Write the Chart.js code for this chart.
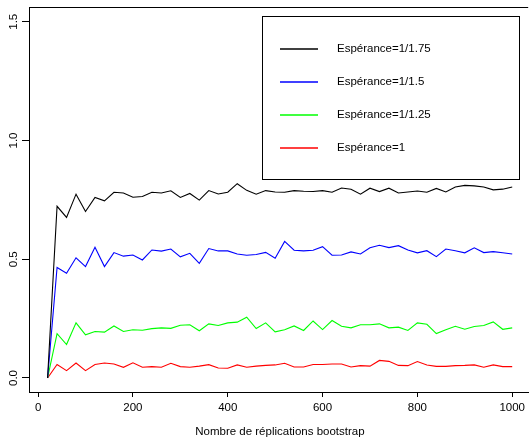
<!DOCTYPE html>
<html>
<head>
<meta charset="utf-8">
<script src="https://cdn.jsdelivr.net/npm/chart.js@4.4.1/dist/chart.umd.min.js"></script>
<style>
  html, body { margin: 0; padding: 0; background: #fff; }
  #wrap { width: 529px; height: 439px; }
</style>
</head>
<body>
<div id="wrap"><canvas id="c" width="529" height="439"></canvas></div>
<script>
var replications = [20, 40, 60, 80, 100, 120, 140, 160, 180, 200,
  220, 240, 260, 280, 300, 320, 340, 360, 380, 400,
  420, 440, 460, 480, 500, 520, 540, 560, 580, 600,
  620, 640, 660, 680, 700, 720, 740, 760, 780, 800,
  820, 840, 860, 880, 900, 920, 940, 960, 980, 1000];

var esp175 = [0, 0.723, 0.676, 0.774, 0.701, 0.760, 0.746, 0.782, 0.779, 0.761,
  0.764, 0.782, 0.779, 0.788, 0.760, 0.777, 0.749, 0.789, 0.775, 0.782,
  0.818, 0.790, 0.774, 0.789, 0.783, 0.782, 0.789, 0.786, 0.785, 0.789,
  0.782, 0.800, 0.795, 0.774, 0.799, 0.785, 0.799, 0.779, 0.783, 0.787,
  0.782, 0.798, 0.783, 0.804, 0.811, 0.809, 0.804, 0.792, 0.795, 0.804];

var esp15 = [0, 0.465, 0.441, 0.506, 0.469, 0.550, 0.469, 0.528, 0.513, 0.518,
  0.497, 0.539, 0.534, 0.543, 0.510, 0.525, 0.483, 0.545, 0.535, 0.535,
  0.522, 0.517, 0.520, 0.529, 0.504, 0.575, 0.538, 0.535, 0.538, 0.553,
  0.517, 0.518, 0.531, 0.522, 0.548, 0.559, 0.549, 0.557, 0.539, 0.527,
  0.536, 0.511, 0.543, 0.536, 0.527, 0.548, 0.528, 0.532, 0.527, 0.522];

var esp125 = [0, 0.187, 0.141, 0.232, 0.182, 0.196, 0.193, 0.219, 0.196, 0.203,
  0.201, 0.208, 0.211, 0.209, 0.222, 0.224, 0.199, 0.228, 0.221, 0.232,
  0.235, 0.256, 0.208, 0.232, 0.194, 0.203, 0.219, 0.200, 0.240, 0.204,
  0.242, 0.218, 0.211, 0.224, 0.224, 0.228, 0.211, 0.214, 0.200, 0.232,
  0.226, 0.187, 0.203, 0.218, 0.205, 0.217, 0.221, 0.236, 0.205, 0.211];

var esp1 = [0, 0.057, 0.031, 0.063, 0.031, 0.057, 0.063, 0.059, 0.045, 0.064,
  0.045, 0.048, 0.045, 0.062, 0.048, 0.045, 0.050, 0.056, 0.042, 0.041,
  0.055, 0.045, 0.050, 0.053, 0.055, 0.062, 0.046, 0.046, 0.057, 0.057,
  0.059, 0.059, 0.046, 0.052, 0.050, 0.074, 0.070, 0.053, 0.052, 0.069,
  0.055, 0.049, 0.049, 0.052, 0.053, 0.055, 0.045, 0.055, 0.048, 0.048];

var seriesLabels = ['Espérance=1/1.75', 'Espérance=1/1.5', 'Espérance=1/1.25', 'Espérance=1'];
var seriesColors = ['#000000', '#0000ff', '#00ff00', '#ff0000'];
var xTicks = [0, 200, 400, 600, 800, 1000];
var xTickLabels = ['0', '200', '400', '600', '800', '1000'];
var yTicks = [0, 0.5, 1.0, 1.5];
var yTickLabels = ['0.0', '0.5', '1.0', '1.5'];
var xTitle = 'Nombre de réplications bootstrap';

var FONT = '11.5px "Liberation Sans", Arial, sans-serif';

function toPoints(values) {
  return values.map(function (v, i) { return { x: replications[i], y: v }; });
}

var allSeries = [esp175, esp15, esp125, esp1];

// R-like decorations: top border, rotated y labels, axis title, boxed legend
var rDecor = {
  id: 'rDecor',
  afterDraw: function (chart) {
    var ctx = chart.ctx;
    var a = chart.chartArea;
    var xs = chart.scales.x;
    var ys = chart.scales.y;
    ctx.save();
    ctx.strokeStyle = '#000';
    ctx.lineWidth = 1;
    ctx.beginPath();
    ctx.moveTo(a.left, Math.round(a.top) + 0.5);
    ctx.lineTo(a.right, Math.round(a.top) + 0.5);
    ctx.stroke();

    ctx.fillStyle = '#000';
    ctx.font = FONT;
    ctx.textAlign = 'center';
    ctx.textBaseline = 'middle';
    yTicks.forEach(function (t, i) {
      ctx.save();
      ctx.translate(13.5, ys.getPixelForValue(t));
      ctx.rotate(-Math.PI / 2);
      ctx.fillText(yTickLabels[i], 0, 0);
      ctx.restore();
    });

    ctx.fillText(xTitle, xs.getPixelForValue(510), 432);

    // legend
    var lx = 262, ly = 16, lw = 257, lh = 163;
    ctx.strokeRect(lx + 0.5, ly + 0.5, lw, lh);
    ctx.textAlign = 'left';
    seriesLabels.forEach(function (lab, i) {
      var y = 49 + i * 33.1;
      ctx.strokeStyle = seriesColors[i];
      ctx.lineWidth = 1.3;
      ctx.beginPath();
      ctx.moveTo(280, Math.round(y));
      ctx.lineTo(318, Math.round(y));
      ctx.stroke();
      ctx.fillStyle = '#000';
      ctx.fillText(lab, 337, y);
    });
    ctx.restore();
  }
};

new Chart(document.getElementById('c'), {
  type: 'line',
  data: {
    datasets: allSeries.map(function (s, i) {
      return {
        label: seriesLabels[i],
        data: toPoints(s),
        borderColor: seriesColors[i],
        borderWidth: 1.1,
        pointRadius: 0,
        tension: 0,
        fill: false
      };
    })
  },
  options: {
    responsive: false,
    animation: false,
    layout: { padding: { top: 7, left: 0, right: 0, bottom: 0 } },
    plugins: { legend: { display: false }, tooltip: { enabled: false } },
    scales: {
      x: {
        type: 'linear',
        min: -19.2,
        max: 1033.7,
        afterBuildTicks: function (scale) {
          scale.ticks = xTicks.map(function (v) { return { value: v }; });
        },
        afterFit: function (scale) { scale.height = 47; },
        grid: { drawOnChartArea: false, drawTicks: true, tickLength: 5, color: '#000' },
        border: { display: true, color: '#000', width: 1 },
        ticks: {
          color: '#000',
          font: { family: '"Liberation Sans", Arial, sans-serif', size: 11.5 },
          padding: 4,
          maxRotation: 0,
          autoSkip: false,
          callback: function (value, index) { return xTickLabels[index]; }
        }
      },
      y: {
        type: 'linear',
        min: -0.059,
        max: 1.562,
        afterBuildTicks: function (scale) {
          scale.ticks = yTicks.map(function (v) { return { value: v }; });
        },
        afterFit: function (scale) { scale.width = 29; },
        grid: { drawOnChartArea: false, drawTicks: true, tickLength: 7, color: '#000' },
        border: { display: true, color: '#000', width: 1 },
        ticks: { display: false }
      }
    }
  },
  plugins: [rDecor]
});
</script>
</body>
</html>
